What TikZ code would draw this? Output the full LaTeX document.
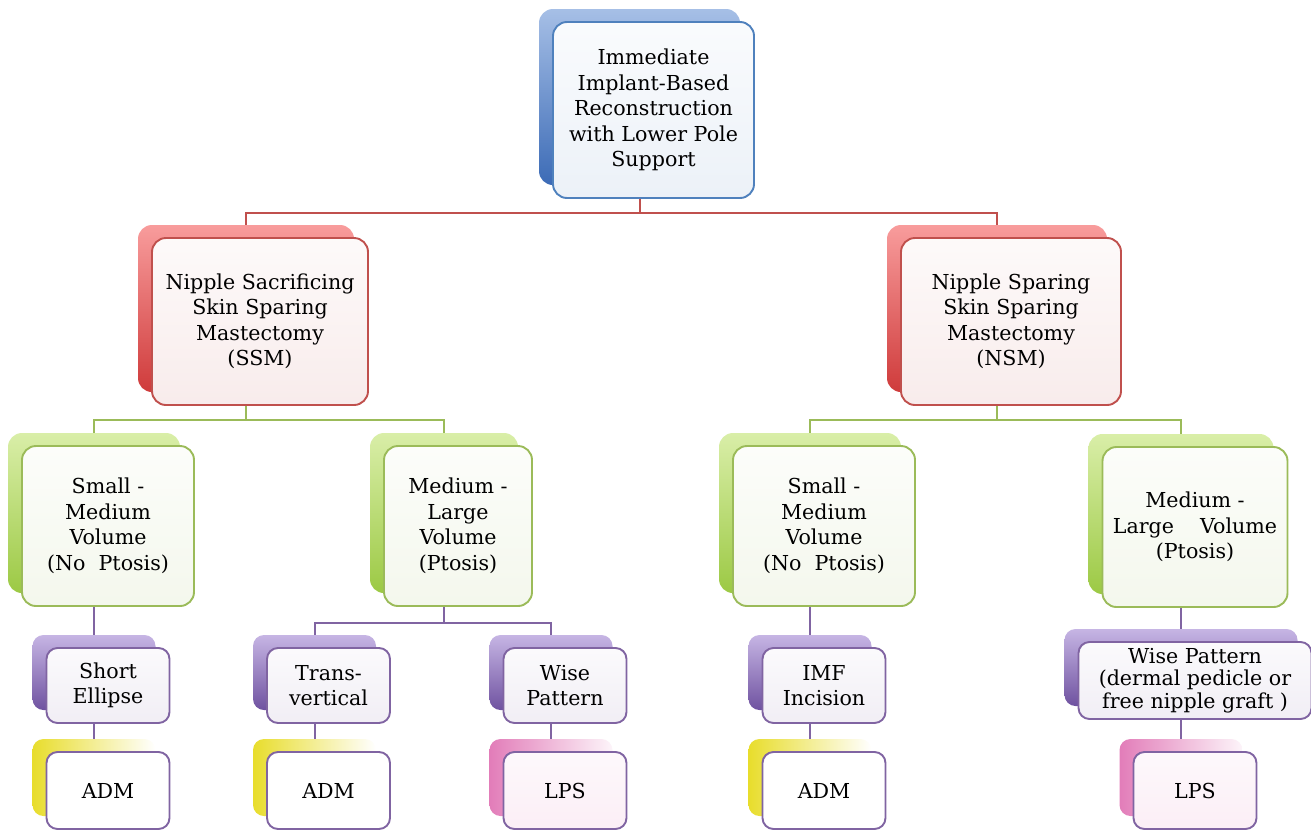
\documentclass[tikz,border=0pt]{standalone}
\usepackage{fontspec}
\setmainfont{DejaVu Serif}
\usetikzlibrary{backgrounds}

\definecolor{blueln}{HTML}{4F81BD}
\definecolor{redln}{HTML}{C0504D}
\definecolor{greenln}{HTML}{9BBB59}
\definecolor{purpleln}{HTML}{8064A2}
\definecolor{bluetop}{HTML}{A6BFE6}
\definecolor{bluebot}{HTML}{3C6BB6}
\definecolor{redtop}{HTML}{F89C9C}
\definecolor{redbot}{HTML}{CF3B3B}
\definecolor{greentop}{HTML}{D9EEA8}
\definecolor{greenbot}{HTML}{9CC944}
\definecolor{purpletop}{HTML}{C6B5E4}
\definecolor{purplebot}{HTML}{6F52A0}
\definecolor{yellowbk}{HTML}{E8DD2C}
\definecolor{pinkbk}{HTML}{E27DB9}

\begin{document}
\begin{tikzpicture}[x=1pt, y=-1pt,
  every node/.style={font=\fontsize{20.6}{25.5}\selectfont, align=center, inner sep=0pt, rounded corners=14pt},
  card/.style={draw=#1, line width=1.9pt, top color=#1!3, bottom color=#1!11},
  bluebk/.style={top color=bluetop, bottom color=bluebot},
  redbk/.style={top color=redtop, bottom color=redbot},
  greenbk/.style={top color=greentop, bottom color=greenbot},
  purplebk/.style={top color=purpletop, bottom color=purplebot},
  yellowbk/.style={left color=yellowbk, right color=white},
  pinkbk/.style={left color=pinkbk, right color=pinkbk!8},
  big/.style={minimum width=#1, minimum height=160pt},
  small/.style={minimum width=#1, minimum height=77pt, rounded corners=11pt},
  link/.style={draw=#1, line width=2pt, rounded corners=0pt}]
  \useasboundingbox (0,0) rectangle (1311,830);

  % root
  \node[bluebk, minimum width=201pt, minimum height=176pt] (rootbk) at (639.5,97) {};
  \node[card=blueln, minimum width=201pt, minimum height=176pt] (root) at (653.5,110)
    {Immediate\\Implant-Based\\Reconstruction\\with Lower Pole\\Support};

  % mastectomy type
  \node[redbk, minimum width=216pt, minimum height=167pt] (ssmbk) at (246,308.5) {};
  \node[card=redln, minimum width=216pt, minimum height=167pt] (ssm) at (260,321.5)
    {Nipple Sacrificing\\Skin Sparing\\Mastectomy\\(SSM)};
  \node[redbk, minimum width=220pt, minimum height=167pt] (nsmbk) at (997,308.5) {};
  \node[card=redln, minimum width=220pt, minimum height=167pt] (nsm) at (1011,321.5)
    {Nipple Sparing\\Skin Sparing\\Mastectomy\\(NSM)};

  % breast volume
  \node[greenbk, big=172pt] (smlbk) at (94,513) {};
  \node[card=greenln, big=172pt] (sml) at (108,526) {Small -\\Medium\\Volume\\(No\ \ Ptosis)};
  \node[greenbk, big=148pt] (mllbk) at (444,513) {};
  \node[card=greenln, big=148pt] (mll) at (458,526) {Medium -\\Large\\Volume\\(Ptosis)};
  \node[greenbk, big=182pt] (smrbk) at (810,513) {};
  \node[card=greenln, big=182pt] (smr) at (824,526) {Small -\\Medium\\Volume\\(No\ \ Ptosis)};
  \node[greenbk, big=185pt] (mlrbk) at (1181,514) {};
  \node[card=greenln, big=185pt] (mlr) at (1195,527) {Medium -\\Large\ \ \ \ Volume\\(Ptosis)};

  % incision
  \node[purplebk, small=123pt, minimum height=75pt] (ellbk) at (94,672.5) {};
  \node[card=purpleln, small=123pt, minimum height=75pt] (ell) at (108,685.5) {Short\\Ellipse};
  \node[purplebk, small=123pt, minimum height=75pt] (tvbk) at (314.5,672.5) {};
  \node[card=purpleln, small=123pt, minimum height=75pt] (tv) at (328.5,685.5) {Trans-\\vertical};
  \node[purplebk, small=123pt, minimum height=75pt] (wplbk) at (551,672.5) {};
  \node[card=purpleln, small=123pt, minimum height=75pt] (wpl) at (565,685.5) {Wise\\Pattern};
  \node[purplebk, small=123pt, minimum height=75pt] (imfbk) at (810,672.5) {};
  \node[card=purpleln, small=123pt, minimum height=75pt] (imf) at (824,685.5) {IMF\\Incision};
  \node[purplebk, small=233pt] (wprbk) at (1181,667.5) {};
  \node[card=purpleln, small=233pt, font=\fontsize{20.6}{22.5}\selectfont] (wpr) at (1195,680.5)
    {Wise Pattern\\(dermal pedicle or\\free nipple graft )};

  % lower pole support
  \node[yellowbk, small=123pt] (admabk) at (94,777.5) {};
  \node[card=purpleln, top color=white, bottom color=white, small=123pt] (adma) at (108,790.5) {ADM};
  \node[yellowbk, small=123pt] (admbbk) at (314.5,777.5) {};
  \node[card=purpleln, top color=white, bottom color=white, small=123pt] (admb) at (328.5,790.5) {ADM};
  \node[pinkbk, small=123pt] (lpsabk) at (551,777.5) {};
  \node[card=purpleln, top color=pinkbk!5, bottom color=pinkbk!13, small=123pt] (lpsa) at (565,790.5) {LPS};
  \node[yellowbk, small=123pt] (admcbk) at (810,777.5) {};
  \node[card=purpleln, top color=white, bottom color=white, small=123pt] (admc) at (824,790.5) {ADM};
  \node[pinkbk, small=123pt] (lpsbbk) at (1181,777.5) {};
  \node[card=purpleln, top color=pinkbk!5, bottom color=pinkbk!13, small=123pt] (lpsb) at (1195,790.5) {LPS};

  % connectors behind the cards
  \begin{pgfonlayer}{background}
    \draw[link=redln] (rootbk.south) -- ++(0,28) -| (ssmbk.north);
    \draw[link=redln] (rootbk.south) -- ++(0,28) -| (nsmbk.north);
    \draw[link=greenln] (ssmbk.south) -- ++(0,28) -| (smlbk.north);
    \draw[link=greenln] (ssmbk.south) -- ++(0,28) -| (mllbk.north);
    \draw[link=greenln] (nsmbk.south) -- ++(0,28) -| (smrbk.north);
    \draw[link=greenln] (nsmbk.south) -- ++(0,28) -| (mlrbk.north);
    \draw[link=purpleln] (mllbk.south) -- ++(0,30) -| (tvbk.north);
    \draw[link=purpleln] (mllbk.south) -- ++(0,30) -| (wplbk.north);
    \foreach \a/\b in {smlbk/ellbk, smrbk/imfbk, mlrbk/wprbk, ellbk/admabk, tvbk/admbbk,
                       wplbk/lpsabk, imfbk/admcbk, wprbk/lpsbbk}
      \draw[link=purpleln] (\a.south) -- (\b.north);
  \end{pgfonlayer}
\end{tikzpicture}
\end{document}
